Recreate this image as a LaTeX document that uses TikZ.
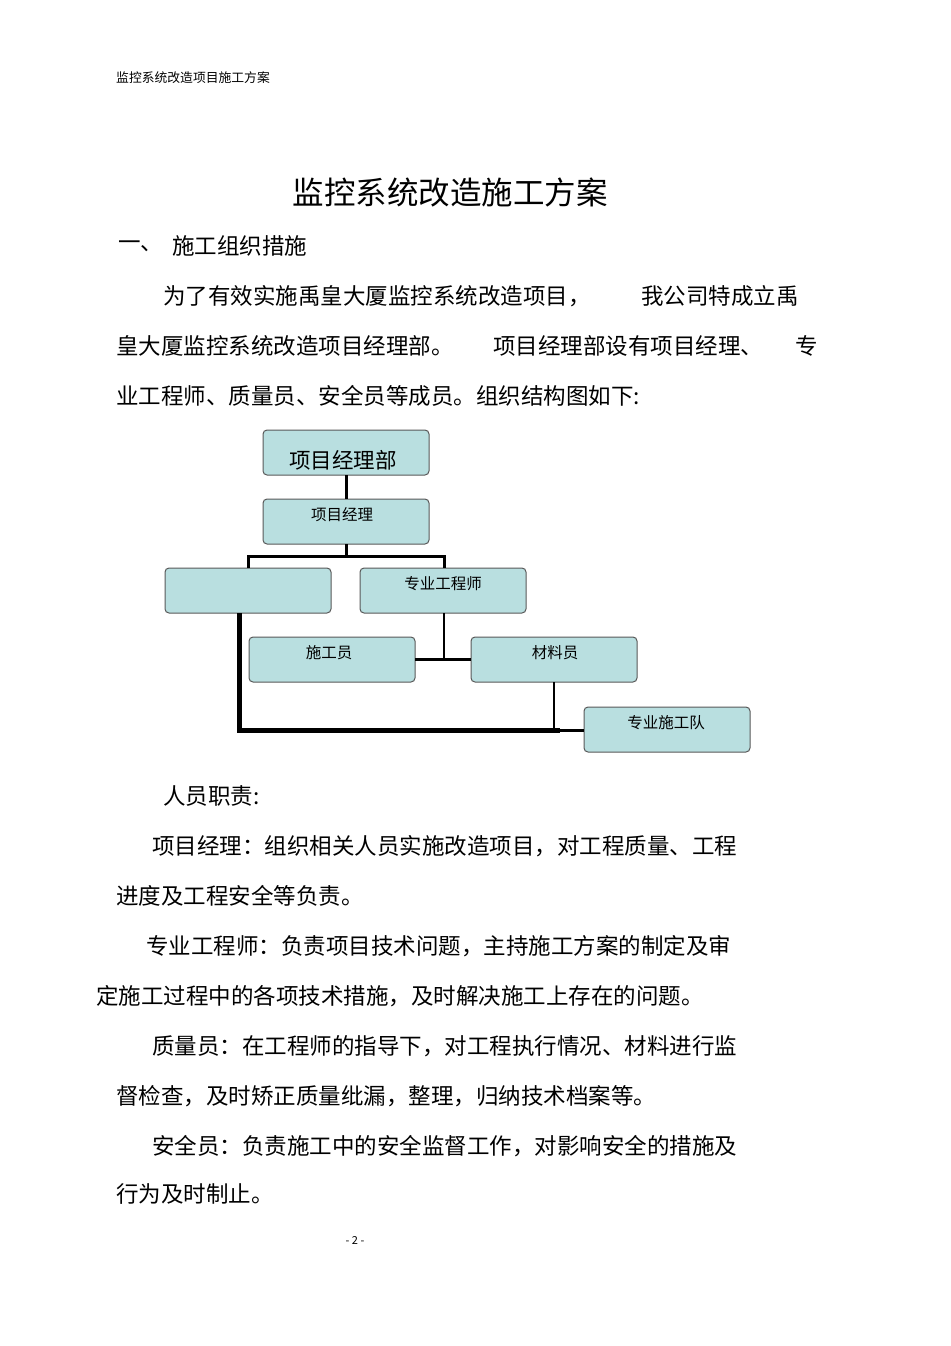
\documentclass[tikz,border=0pt]{standalone}
\usepackage{fontspec}
\setmainfont{Noto Sans CJK SC}
\newfontfamily\cjk{Noto Sans CJK SC}
\begin{document}
\begin{tikzpicture}[x=1pt,y=-1pt,
  box/.style={draw=black!65,line width=1pt,fill=boxc,rounded corners=4pt},
  txt/.style={anchor=west,inner sep=0pt,font=\fontsize{22.5}{22.5}\selectfont},
  btxt/.style={inner sep=0pt,font=\fontsize{15.5}{15.5}\selectfont},
  link/.style={line width=3pt}]
\definecolor{boxc}{HTML}{B9DFE0}
\useasboundingbox (0,0) rectangle (950,1346);
\node[anchor=west,inner sep=0pt,font=\fontsize{12.8}{12.8}\selectfont] (hdr) at (116,78) {监控系统改造项目施工方案};
\node[inner sep=0pt,font=\fontsize{31.5}{31.5}\selectfont] (title) at (450,192) {监控系统改造施工方案};
\node[txt] (s1) at (118,246) {一、};
\node[txt] (s2) at (172,246) {施工组织措施};
\node[txt] (p1a) at (163,296) {为了有效实施禹皇大厦监控系统改造项目，};
\node[txt] (p1b) at (641,296) {我公司特成立禹};
\node[txt] (p2a) at (116,346) {皇大厦监控系统改造项目经理部。};
\node[txt] (p2b) at (493,346) {项目经理部设有项目经理、};
\node[txt] (p2c) at (795,346) {专};
\node[txt] (p3) at (116,396) {业工程师、质量员、安全员等成员。组织结构图如下:};
% chart
\draw[box] (263,430) rectangle (429,475); \node[inner sep=0pt,font=\fontsize{21.5}{21.5}\selectfont] (n1) at (343,460) {项目经理部};
\draw[box] (263,499) rectangle (429,544); \node[btxt] (n2) at (342,515) {项目经理};
\draw[box] (165,568) rectangle (331,613); \coordinate (n3) at (248,590);
\draw[box] (360,568) rectangle (526,613); \node[btxt] (n4) at (443,584) {专业工程师};
\draw[box] (249,637) rectangle (415,682); \node[btxt] (n5) at (329,653) {施工员};
\draw[box] (471,637) rectangle (637,682); \node[btxt] (n6) at (555,653) {材料员};
\draw[box] (584,707) rectangle (750,752); \node[btxt] (n7) at (666,723) {专业施工队};
\draw[link] (346,475) -- (346,499);
\draw[link] (346,544) -- (346,556);
\draw[link] (248,568) -- (248,556) -- (444,556) -- (444,568);
\draw[line width=2pt] (444,613) -- (444,659);
\draw[link] (415,659) -- (471,659);
\draw[line width=5pt] (239,613) -- (239,730) -- (560,730);
\draw[line width=3pt] (560,730) -- (584,730);
\draw[line width=2pt] (554,682) -- (554,730);
% text
\node[txt] (r0) at (163,796) {人员职责:};
\node[txt] (r1) at (152,846) {项目经理：组织相关人员实施改造项目，对工程质量、工程};
\node[txt] (r2) at (116,896) {进度及工程安全等负责。};
\node[txt] (r3) at (146,946) {专业工程师：负责项目技术问题，主持施工方案的制定及审};
\node[txt] (r4) at (96,996) {定施工过程中的各项技术措施，及时解决施工上存在的问题。};
\node[txt] (r5) at (152,1046) {质量员：在工程师的指导下，对工程执行情况、材料进行监};
\node[txt] (r6) at (116,1096) {督检查，及时矫正质量纰漏，整理，归纳技术档案等。};
\node[txt] (r7) at (152,1146) {安全员：负责施工中的安全监督工作，对影响安全的措施及};
\node[txt] (r8) at (116,1194) {行为及时制止。};
\node[inner sep=0pt,font=\fontsize{11}{11}\selectfont] (pg) at (355,1240) {- 2 -};
\end{tikzpicture}
\end{document}
